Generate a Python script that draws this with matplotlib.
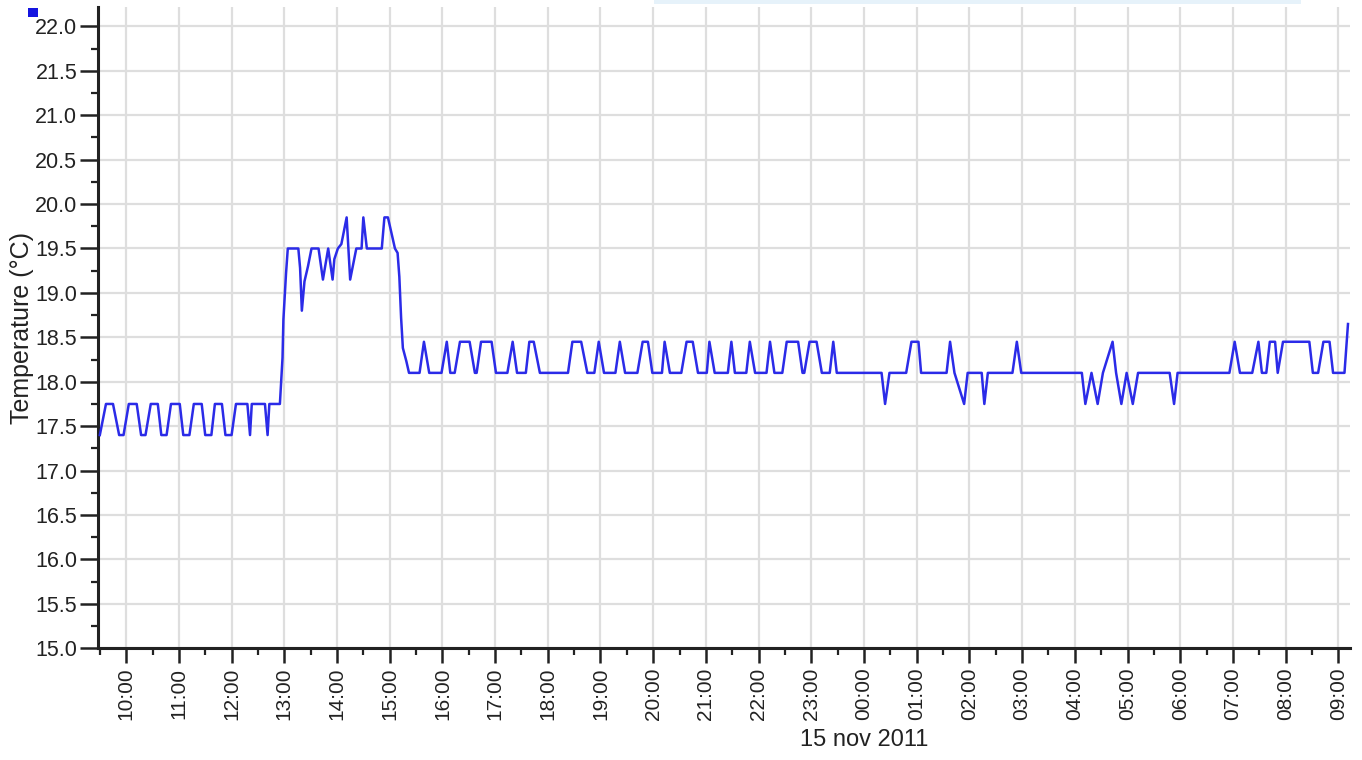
import matplotlib
matplotlib.use('Agg')
import matplotlib.pyplot as plt
import matplotlib.dates as mdates
import matplotlib.transforms as mtransforms
from matplotlib.patches import Rectangle
from matplotlib.ticker import MultipleLocator, FormatStrFormatter
from datetime import datetime, timedelta

plt.rcParams['font.family'] = ['Liberation Sans', 'DejaVu Sans']

# logger readings, 14-15 nov 2011 (HH:MM, the day rolls over at midnight)
times = [
    '09:30', '09:37', '09:45', '09:52', '09:57', '10:03', '10:12', '10:17', '10:22', '10:28',
    '10:36', '10:40', '10:46', '10:51', '11:01', '11:05', '11:12', '11:17', '11:26', '11:30',
    '11:37', '11:41', '11:49', '11:53', '12:00', '12:05', '12:18', '12:21', '12:23', '12:38',
    '12:41', '12:43', '12:55',
    '12:58', '12:59', '13:02', '13:04', '13:16', '13:18', '13:20', '13:23', '13:27', '13:31',
    '13:39', '13:44', '13:50', '13:55', '13:57', '14:01', '14:05', '14:11', '14:15', '14:22',
    '14:28', '14:30', '14:34', '14:51', '14:54', '14:58', '15:06', '15:09', '15:11', '15:13',
    '15:15', '15:19', '15:22',
    '15:34', '15:39', '15:45', '15:59', '16:05', '16:09', '16:14', '16:20', '16:31', '16:37',
    '16:39', '16:44', '16:56', '17:01', '17:14', '17:20', '17:25', '17:35', '17:39', '17:44',
    '17:51', '18:23', '18:28', '18:38', '18:45', '18:53', '18:58', '19:04', '19:17', '19:22',
    '19:28', '19:42', '19:48', '19:54', '19:59', '20:10', '20:13', '20:19', '20:32', '20:38',
    '20:45', '20:51', '21:01', '21:04', '21:10', '21:25', '21:29', '21:33', '21:46', '21:50',
    '21:56', '22:09', '22:13', '22:18', '22:27', '22:32', '22:45', '22:50', '22:52', '22:58',
    '23:06', '23:12', '23:21', '23:25', '23:29',
    '00:20', '00:24', '00:29', '00:48', '00:54', '01:02', '01:05', '01:34', '01:38', '01:43',
    '01:54', '01:58', '02:14', '02:17', '02:21', '02:49', '02:54', '02:59', '04:08', '04:12',
    '04:19', '04:26', '04:32', '04:43', '04:47', '04:53', '04:59', '05:06', '05:12', '05:48',
    '05:53', '05:57', '06:56', '07:02', '07:08', '07:22', '07:29', '07:33', '07:38', '07:42',
    '07:48', '07:51', '07:57', '08:27', '08:31', '08:37', '08:43', '08:50', '08:54', '09:07',
    '09:11',
]
temps = [
    17.40, 17.75, 17.75, 17.40, 17.40, 17.75, 17.75, 17.40, 17.40, 17.75,
    17.75, 17.40, 17.40, 17.75, 17.75, 17.40, 17.40, 17.75, 17.75, 17.40,
    17.40, 17.75, 17.75, 17.40, 17.40, 17.75, 17.75, 17.40, 17.75, 17.75,
    17.40, 17.75, 17.75,
    18.27, 18.70, 19.22, 19.50, 19.50, 19.28, 18.80, 19.13, 19.30, 19.50,
    19.50, 19.15, 19.50, 19.15, 19.38, 19.50, 19.55, 19.85, 19.15, 19.50,
    19.50, 19.85, 19.50, 19.50, 19.85, 19.85, 19.50, 19.45, 19.18, 18.72,
    18.38, 18.23, 18.10,
    18.10, 18.45, 18.10, 18.10, 18.45, 18.10, 18.10, 18.45, 18.45, 18.10,
    18.10, 18.45, 18.45, 18.10, 18.10, 18.45, 18.10, 18.10, 18.45, 18.45,
    18.10, 18.10, 18.45, 18.45, 18.10, 18.10, 18.45, 18.10, 18.10, 18.45,
    18.10, 18.10, 18.45, 18.45, 18.10, 18.10, 18.45, 18.10, 18.10, 18.45,
    18.45, 18.10, 18.10, 18.45, 18.10, 18.10, 18.45, 18.10, 18.10, 18.45,
    18.10, 18.10, 18.45, 18.10, 18.10, 18.45, 18.45, 18.10, 18.10, 18.45,
    18.45, 18.10, 18.10, 18.45, 18.10,
    18.10, 17.75, 18.10, 18.10, 18.45, 18.45, 18.10, 18.10, 18.45, 18.10,
    17.75, 18.10, 18.10, 17.75, 18.10, 18.10, 18.45, 18.10, 18.10, 17.75,
    18.10, 17.75, 18.10, 18.45, 18.10, 17.75, 18.10, 17.75, 18.10, 18.10,
    17.75, 18.10, 18.10, 18.45, 18.10, 18.10, 18.45, 18.10, 18.10, 18.45,
    18.45, 18.10, 18.45, 18.45, 18.10, 18.10, 18.45, 18.45, 18.10, 18.10,
    18.65,
]


def to_datetimes(hhmm, start=datetime(2011, 11, 14)):
    out = []
    day = start
    prev = None
    for s in hhmm:
        h, m = map(int, s.split(':'))
        t = day.replace(hour=h, minute=m)
        if prev is not None and t < prev:
            day += timedelta(days=1)
            t = day.replace(hour=h, minute=m)
        out.append(t)
        prev = t
    return out


x = to_datetimes(times)

fig = plt.figure(figsize=(13.62, 7.6), dpi=100)
ax = fig.add_axes([0.072, 0.147, 0.919, 0.844])

ax.plot(x, temps, color='#2b2be8', lw=1.8, zorder=3)

ax.set_xlim(datetime(2011, 11, 14, 9, 28), datetime(2011, 11, 15, 9, 13))
ax.set_ylim(15.0, 22.22)

ax.xaxis.set_major_locator(mdates.HourLocator())
ax.xaxis.set_minor_locator(mdates.MinuteLocator(byminute=[30]))
ax.xaxis.set_major_formatter(mdates.DateFormatter('%H:%M'))
ax.yaxis.set_major_locator(MultipleLocator(0.5))
ax.yaxis.set_minor_locator(MultipleLocator(0.25))
ax.yaxis.set_major_formatter(FormatStrFormatter('%.1f'))

for lbl in ax.get_xticklabels():
    lbl.set_rotation(90)

ax.tick_params(axis='x', which='major', length=11, width=1.8, labelsize=15, pad=3, color='#222222')
ax.tick_params(axis='y', which='major', length=13, width=1.8, labelsize=15.5, pad=2, color='#222222')
ax.tick_params(which='minor', length=5, width=1.6, color='#222222')
ax.tick_params(labelcolor='#222222')

ax.grid(True, which='major', color='#dedede', lw=1.6)
ax.set_axisbelow(True)

for side in ('top', 'right'):
    ax.spines[side].set_visible(False)
for side in ('left', 'bottom'):
    ax.spines[side].set_linewidth(2.2)
    ax.spines[side].set_color('#222222')

ax.set_ylabel('Temperature (°C)', fontsize=18, color='#222222')
ax.yaxis.set_label_coords(-0.051, 0.5)

# date caption sits under the midnight tick
trans = mtransforms.blended_transform_factory(ax.transData, ax.transAxes)
ax.text(datetime(2011, 11, 15, 0, 0), -0.1435, '15 nov 2011', transform=trans,
        ha='center', va='center', fontsize=17, color='#222222')

# series marker in the corner and the faint strip along the top
fig.add_artist(Rectangle((0.0206, 0.9776), 0.0073, 0.0118, transform=fig.transFigure,
                         facecolor='#1515e0', edgecolor='none'))
fig.add_artist(Rectangle((0.48, 0.995), 0.475, 0.005, transform=fig.transFigure,
                         facecolor='#e6f2fa', edgecolor='none'))

fig.savefig('out.png', dpi=100)
